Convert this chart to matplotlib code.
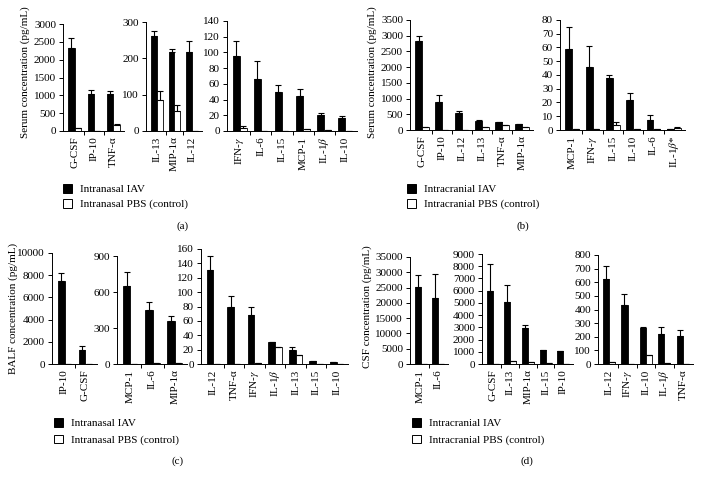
import numpy as np
import matplotlib
matplotlib.use('Agg')
import matplotlib.pyplot as plt
from matplotlib.patches import Patch

plt.rcParams['font.family'] = ['Liberation Serif', 'DejaVu Serif']
plt.rcParams['mathtext.fontset'] = 'stix'

B = r'$\beta$'
G = r'$\gamma$'
A = 'α'

# ---- panel (a): serum, intranasal ----
a1_cats = ['G-CSF', 'IP-10', 'TNF-' + A]
a1_iav = [2340, 1035, 1035]
a1_iav_err = [260, 115, 90]
a1_pbs = [80, 0, 160]
a1_pbs_err = [10, 0, 25]

a2_cats = ['IL-13', 'MIP-1' + A, 'IL-12']
a2_iav = [262, 217, 217]
a2_iav_err = [13, 10, 30]
a2_pbs = [84, 55, 0]
a2_pbs_err = [27, 16, 0]

a3_cats = ['IFN-' + G, 'IL-6', 'IL-15', 'MCP-1', 'IL-1' + B, 'IL-10']
a3_iav = [96, 66, 50, 45, 20, 16]
a3_iav_err = [19, 23, 9, 9, 3.5, 3]
a3_pbs = [4, 0.5, 0.3, 2, 1.5, 0.5]
a3_pbs_err = [2.5, 0, 0, 0.5, 0, 0]

# ---- panel (b): serum, intracranial ----
b1_cats = ['G-CSF', 'IP-10', 'IL-12', 'IL-13', 'TNF-' + A, 'MIP-1' + A]
b1_iav = [2830, 890, 530, 290, 240, 195]
b1_iav_err = [150, 210, 60, 30, 25, 10]
b1_pbs = [90, 10, 15, 100, 170, 100]
b1_pbs_err = [0, 0, 0, 10, 0, 0]

b2_cats = ['MCP-1', 'IFN-' + G, 'IL-15', 'IL-10', 'IL-6', 'IL-1' + B + '*']
b2_iav = [59, 46, 38, 22, 7, 0.5]
b2_iav_err = [16, 15, 2, 5, 4, 0]
b2_pbs = [0.7, 0.5, 4, 0.5, 0.5, 1.5]
b2_pbs_err = [0, 0, 2, 0, 0, 0.7]

# ---- panel (c): BALF, intranasal ----
c1_cats = ['IP-10', 'G-CSF']
c1_iav = [7470, 1280]
c1_iav_err = [740, 300]
c1_pbs = [30, 0]
c1_pbs_err = [0, 0]

c2_cats = ['MCP-1', 'IL-6', 'MIP-1' + A]
c2_iav = [650, 450, 360]
c2_iav_err = [120, 70, 40]
c2_pbs = [0, 10, 8]
c2_pbs_err = [0, 0, 0]

c3_cats = ['IL-12', 'TNF-' + A, 'IFN-' + G, 'IL-1' + B, 'IL-13', 'IL-15', 'IL-10']
c3_iav = [131, 80, 68, 30, 20, 4, 3]
c3_iav_err = [19, 15, 12, 1, 3, 0, 0]
c3_pbs = [0, 0, 1, 24, 13, 0.5, 0]
c3_pbs_err = [0, 0, 0, 0, 0, 0, 0]

# ---- panel (d): CSF, intracranial ----
d1_cats = ['MCP-1', 'IL-6']
d1_iav = [25100, 21500]
d1_iav_err = [4000, 8000]
d1_pbs = [0, 0]
d1_pbs_err = [0, 0]

d2_cats = ['G-CSF', 'IL-13', 'MIP-1' + A, 'IL-15', 'IP-10']
d2_iav = [5950, 5100, 2930, 1130, 1100]
d2_iav_err = [2200, 1330, 300, 0, 0]
d2_pbs = [0, 250, 160, 110, 20]
d2_pbs_err = [0, 0, 0, 0, 0]

d3_cats = ['IL-12', 'IFN-' + G, 'IL-10', 'IL-1' + B, 'TNF-' + A]
d3_iav = [623, 435, 266, 220, 203]
d3_iav_err = [95, 76, 5, 52, 48]
d3_pbs = [12, 3, 68, 8, 3]
d3_pbs_err = [0, 0, 0, 0, 0]

W, H = 704, 483
fig = plt.figure(figsize=(W / 100, H / 100), dpi=100)


def box(l, r, t, b):
    return [l / W, 1 - b / H, (r - l) / W, (b - t) / H]


def draw_group(pos, cats, iav, iav_err, pbs, pbs_err, ymax, step):
    ax = fig.add_axes(box(*pos))
    x = np.arange(len(cats))
    w = 0.33
    ekw = dict(ecolor='black', elinewidth=0.8, capsize=2, capthick=0.8)
    ax.bar(x - w / 2, iav, w, color='black', edgecolor='black', linewidth=0.6,
           yerr=[np.zeros(len(x)), iav_err], error_kw=ekw)
    ax.bar(x + w / 2, pbs, w, color='white', edgecolor='black', linewidth=0.6,
           yerr=[np.zeros(len(x)), pbs_err], error_kw=ekw)
    ax.set_xlim(-0.6, len(cats) - 0.45)
    ax.set_ylim(0, ymax)
    ax.set_yticks(np.arange(0, ymax + 1, step))
    ax.set_xticks(x)
    ax.set_xticklabels(cats, rotation=90, fontsize=8)
    ax.set_xticks(np.arange(0.5, len(cats) - 0.5, 1), minor=True)
    ax.tick_params(axis='x', which='major', length=0, pad=4)
    ax.tick_params(axis='x', which='minor', length=3, width=0.7, direction='out')
    ax.tick_params(axis='y', length=3, width=0.7, labelsize=8, pad=2)
    for s in ['top', 'right']:
        ax.spines[s].set_visible(False)
    for s in ['left', 'bottom']:
        ax.spines[s].set_linewidth(0.7)
    return ax


draw_group((63, 124, 24, 131), a1_cats, a1_iav, a1_iav_err, a1_pbs, a1_pbs_err, 3000, 500)
draw_group((146, 202, 22, 131), a2_cats, a2_iav, a2_iav_err, a2_pbs, a2_pbs_err, 300, 100)
draw_group((227, 357, 21, 131), a3_cats, a3_iav, a3_iav_err, a3_pbs, a3_pbs_err, 140, 20)

draw_group((410, 533, 20, 130), b1_cats, b1_iav, b1_iav_err, b1_pbs, b1_pbs_err, 3500, 500)
draw_group((560, 685, 20, 130), b2_cats, b2_iav, b2_iav_err, b2_pbs, b2_pbs_err, 80, 10)

draw_group((52, 97, 253, 364), c1_cats, c1_iav, c1_iav_err, c1_pbs, c1_pbs_err, 10000, 2000)
draw_group((117, 187, 256, 364), c2_cats, c2_iav, c2_iav_err, c2_pbs, c2_pbs_err, 900, 300)
draw_group((201, 348, 249, 364), c3_cats, c3_iav, c3_iav_err, c3_pbs, c3_pbs_err, 160, 20)

draw_group((410, 448, 257, 364), d1_cats, d1_iav, d1_iav_err, d1_pbs, d1_pbs_err, 35000, 5000)
draw_group((482, 573, 254, 364), d2_cats, d2_iav, d2_iav_err, d2_pbs, d2_pbs_err, 9000, 1000)
draw_group((598, 693, 255, 364), d3_cats, d3_iav, d3_iav_err, d3_pbs, d3_pbs_err, 800, 100)

# y labels
fig.text(25 / W, 1 - 72 / H, 'Serum concentration (pg/mL)', rotation=90, ha='center', va='center', fontsize=8)
fig.text(372 / W, 1 - 72 / H, 'Serum concentration (pg/mL)', rotation=90, ha='center', va='center', fontsize=8)
fig.text(13 / W, 1 - 308 / H, 'BALF concentration (pg/mL)', rotation=90, ha='center', va='center', fontsize=8)
fig.text(367 / W, 1 - 307 / H, 'CSF concentration (pg/mL)', rotation=90, ha='center', va='center', fontsize=8)

# legends
handles = [Patch(facecolor='black', edgecolor='black', linewidth=0.7),
           Patch(facecolor='white', edgecolor='black', linewidth=0.7)]
legends = [
    (63, 184, 0.45, ['Intranasal IAV', 'Intranasal PBS (control)']),
    (407, 184, 0.45, ['Intracranial IAV', 'Intracranial PBS (control)']),
    (54, 418, 0.6, ['Intranasal IAV', 'Intranasal PBS (control)']),
    (412, 418, 0.6, ['Intracranial IAV', 'Intracranial PBS (control)']),
]
for lx, ly, sp, labels in legends:
    fig.legend(handles, labels, loc='upper left', bbox_to_anchor=(lx / W, 1 - ly / H),
               frameon=False, fontsize=8, handlelength=0.8, handleheight=0.8,
               handletextpad=0.7, labelspacing=sp, borderpad=0, borderaxespad=0)

# panel captions
for cx, cy, cap in [(183, 226, '(a)'), (523, 226, '(b)'), (178, 461, '(c)'), (527, 461, '(d)')]:
    fig.text(cx / W, 1 - cy / H, cap, ha='center', va='center', fontsize=8)

fig.savefig('out.png', dpi=100)
